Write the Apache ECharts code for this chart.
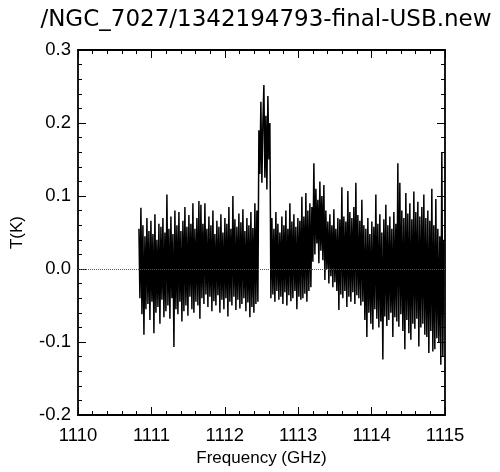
<!DOCTYPE html>
<html>
<head>
<meta charset="utf-8">
<script src="https://cdn.jsdelivr.net/npm/echarts@6/dist/echarts.min.js"></script>
<style>
html,body{margin:0;padding:0;background:#fff;}
#chart{width:500px;height:472px;}
</style>
</head>
<body>
<div id="chart"></div>
<script>
// ---- data ----
var titleText = "/NGC_7027/1342194793-final-USB.new";
var xAxisName = "Frequency (GHz)";
var yAxisName = "T(K)";
var xTicks = [1110, 1111, 1112, 1113, 1114, 1115];
var yTicks = [-0.2, -0.1, 0.0, 0.1, 0.2, 0.3];
var freqStartGHz = 1110.83;      // first channel
var channelWidthGHz = 0.01362;   // channel spacing
// antenna temperature per channel, in mK
var tMilliK = [
 55,-40,84,-62,60,-90,45,-55,70,-48,
 52,-70,66,-45,48,-88,75,-60,40,-52,
 62,-75,58,-42,70,-66,50,-58,102,-50,
 55,-68,72,-40,48,-107,80,-55,60,-62,
 78,-45,52,-72,66,-58,85,-50,58,-64,
 74,-38,62,-55,90,-60,55,
 -45,
 70,-50,93,-68,88,-40,62,-48,90,-35,
 55,-52,72,-38,60,-58,80,-44,48,-50,
 66,-36,58,-60,75,-42,50,-55,70,-40,
 62,-65,85,-45,55,-50,100,-38,68,-56,
 58,-42,76,-54,64,-48,82,-40,52,-58,
 70,-46,60,-66,78,-52,56,-60,90,-48,
 80,-45,
 190,130,229,118,200,252,125,210,109,237,150,200,
 -40,70,-35,55,-45,78,-30,62,-42,50,
 -38,72,-48,60,-32,80,-50,55,-36,90,
 -44,65,-40,75,-30,58,-55,70,-38,66,
 -42,99,-40,72,-34,104,-45,80,-30,90,
 -25,85,10,145,
 20,110,35,95,8,120,25,100,12,115,
 -15,80,0,65,-20,75,-10,60,-25,82,
 -18,55,-30,70,-56,68,-35,112,-40,72,
 -30,65,-52,107,-38,78,-45,70,-32,85,
 -48,118,-36,74,-40,66,-50,95,-45,
 60,-70,55,-93,70,-60,48,-75,65,-83,
 58,-55,102,-68,62,-80,75,-72,50,-124,
 68,-65,88,-78,60,-70,72,-60,55,-93,
 78,-66,62,-72,145,-79,118,-62,80,-85,
 70,-110,104,-70,76,-88,90,-97,68,-75,
 106,-82,78,-68,92,-106,72,-80,85,-75,
 102,-90,70,-93,80,-115,66,-85,110,-113,
 60,-110,96,-95,55,-100,45,-131,160,-120,
 40
];

// ---- build ----
var spectrum = tMilliK.map(function (v, i) {
  return [freqStartGHz + i * channelWidthGHz, v / 1000];
});

var FONT = "Liberation Sans";
var chart = echarts.init(document.getElementById('chart'), null, {renderer: 'canvas'});

function axisCommon() {
  return {
    axisLine: {show: true, onZero: false, lineStyle: {color: '#000', width: 1.8}},
    axisTick: {show: true, inside: true, length: 8, lineStyle: {color: '#000', width: 1}},
    minorTick: {show: true, splitNumber: 5, length: 4, lineStyle: {color: '#000', width: 1}},
    splitLine: {show: false},
    minorSplitLine: {show: false}
  };
}

var xMain = Object.assign(axisCommon(), {
  type: 'value', position: 'bottom',
  min: xTicks[0], max: xTicks[xTicks.length - 1], interval: 1,
  name: xAxisName, nameLocation: 'middle', nameGap: 35,
  nameTextStyle: {fontFamily: FONT, fontSize: 17, color: '#000'},
  axisLabel: {fontFamily: FONT, fontSize: 18.5, color: '#000', margin: 11,
    formatter: function (v) { return String(v); }}
});
var xTop = Object.assign(axisCommon(), {
  type: 'value', position: 'top',
  min: xTicks[0], max: xTicks[xTicks.length - 1], interval: 1,
  axisLabel: {show: false}
});
var yMain = Object.assign(axisCommon(), {
  type: 'value', position: 'left',
  min: yTicks[0], max: yTicks[yTicks.length - 1], interval: 0.1,
  name: yAxisName, nameLocation: 'middle', nameGap: 52,
  nameTextStyle: {fontFamily: FONT, fontSize: 17, color: '#000'},
  axisLabel: {fontFamily: FONT, fontSize: 18.5, color: '#000', margin: 7,
    formatter: function (v) { return v.toFixed(1); }}
});
var yRight = Object.assign(axisCommon(), {
  type: 'value', position: 'right',
  min: yTicks[0], max: yTicks[yTicks.length - 1], interval: 0.1,
  axisLabel: {show: false}
});

chart.setOption({
  animation: false,
  backgroundColor: '#fff',
  title: {
    text: titleText, left: 261, top: 4, textAlign: 'center',
    textStyle: {fontFamily: 'DejaVu Sans', fontSize: 23, fontWeight: 'normal', color: '#000'}
  },
  grid: {left: 78, right: 55, top: 50, bottom: 53, containLabel: false},
  xAxis: [xMain, xTop],
  yAxis: [yMain, yRight],
  series: [
    {
      type: 'line', data: [], z: 1, silent: true,
      markLine: {
        silent: true, symbol: 'none', label: {show: false},
        lineStyle: {type: 'dotted', color: '#555', width: 1},
        data: [{yAxis: 0}]
      }
    },
    {
      type: 'line', data: spectrum, z: 2,
      showSymbol: false, symbol: 'none',
      lineStyle: {color: '#000', width: 1.5, join: 'bevel'},
      animation: false
    }
  ]
});
</script>
</body>
</html>
